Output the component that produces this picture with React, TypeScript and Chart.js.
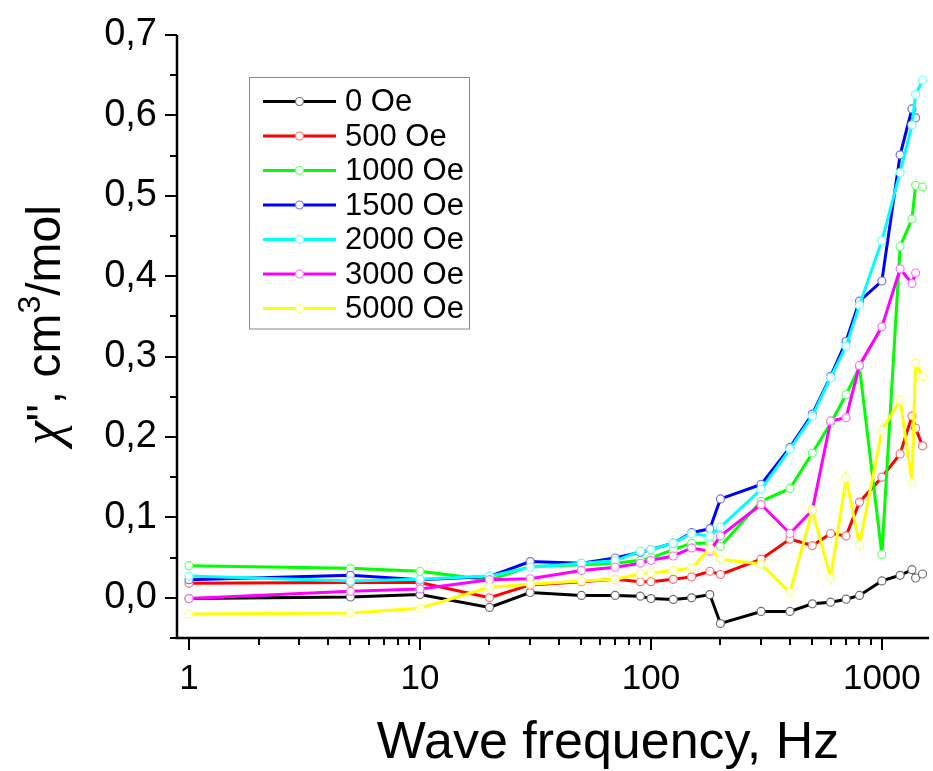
import React, { useEffect, useRef } from "react";
import { Chart, registerables } from "chart.js";

Chart.register(...registerables);

// Frequencies (Hz)
const FREQ = [1, 5, 10, 20, 30, 50, 70, 90, 100, 125, 150, 180, 200, 300, 400, 500, 600, 700, 800, 1000, 1200, 1350, 1400, 1500];

// chi'' values (cm3/mol) per applied field
const OE_0 = [-0.001, 0.001, 0.004, -0.012, 0.0066, 0.003, 0.003, 0.002, -0.001, -0.002, 0.0, 0.004, -0.032, -0.017, -0.017, -0.0075, -0.0054, -0.0017, 0.003, 0.021, 0.028, 0.035, 0.0246, 0.0296];
const OE_500 = [0.018, 0.019, 0.019, 0.0, 0.016, 0.02, 0.023, 0.02, 0.02, 0.023, 0.026, 0.033, 0.029, 0.048, 0.073, 0.065, 0.08, 0.077, 0.119, 0.15, 0.179, 0.226, 0.211, 0.189];
const OE_1000 = [0.04, 0.0366, 0.033, 0.022, 0.039, 0.041, 0.043, 0.0466, 0.0495, 0.06, 0.068, 0.068, 0.064, 0.12, 0.136, 0.18, 0.217, 0.2526, 0.287, 0.054, 0.437, 0.471, 0.513, 0.511];
const OE_1500 = [0.0225, 0.028, 0.0225, 0.0266, 0.045, 0.043, 0.0495, 0.0566, 0.06, 0.068, 0.081, 0.086, 0.123, 0.141, 0.187, 0.2285, 0.2755, 0.319, 0.369, 0.394, 0.551, 0.608, 0.597, null];
const OE_2000 = [0.027, 0.021, 0.023, 0.027, 0.038, 0.043, 0.046, 0.058, 0.06, 0.068, 0.08, 0.0766, 0.088, 0.135, 0.185, 0.226, 0.274, 0.313, 0.364, 0.444, 0.529, 0.588, 0.626, 0.644];
const OE_3000 = [-0.001, 0.008, 0.011, 0.0225, 0.0237, 0.034, 0.038, 0.043, 0.0466, 0.052, 0.062, 0.058, 0.077, 0.116, 0.08, 0.109, 0.22, 0.224, 0.289, 0.337, 0.409, 0.391, 0.404, null];
const OE_5000 = [-0.02, -0.019, -0.013, 0.013, 0.017, 0.021, 0.023, 0.03, 0.031, 0.034, 0.037, 0.061, 0.048, 0.042, 0.0066, 0.109, 0.0246, 0.149, 0.066, 0.208, 0.246, 0.144, 0.292, 0.275];

const SERIES = [OE_0, OE_500, OE_1000, OE_1500, OE_2000, OE_3000, OE_5000];
const NAMES = ["0 Oe", "500 Oe", "1000 Oe", "1500 Oe", "2000 Oe", "3000 Oe", "5000 Oe"];
const COLORS = ["#000000", "#ff0000", "#00ff00", "#0000ff", "#00ffff", "#ff00ff", "#ffff00"];
const MARKER_COLORS = ["#707070", "#ff7070", "#70ff70", "#7070ff", "#70ffff", "#ff70ff", "#ffff70"];

const X_TICKS = [1, 10, 100, 1000];
const X_MINOR = [2, 3, 4, 5, 6, 7, 8, 9, 20, 30, 40, 50, 60, 70, 80, 90, 200, 300, 400, 500, 600, 700, 800, 900];
const Y_TICKS = [0, 0.1, 0.2, 0.3, 0.4, 0.5, 0.6, 0.7];
const Y_MINOR = [-0.05, 0.05, 0.15, 0.25, 0.35, 0.45, 0.55, 0.65];

const SANS = "'Liberation Sans', Arial, sans-serif";

const decor = {
  id: "decor",
  beforeDatasetsDraw(chart: any) {
    const ctx = chart.ctx;
    const xs = chart.scales.x;
    const ys = chart.scales.y;
    const { left, right, top, bottom } = chart.chartArea;
    ctx.save();
    ctx.strokeStyle = "#000";
    ctx.lineWidth = 2.5;
    ctx.beginPath();
    ctx.moveTo(left, top);
    ctx.lineTo(left, bottom + 1.25);
    ctx.moveTo(left - 1.25, bottom);
    ctx.lineTo(right, bottom);
    ctx.stroke();
    ctx.lineWidth = 2;
    ctx.beginPath();
    X_TICKS.forEach((v) => {
      const p = Math.round(xs.getPixelForValue(v));
      ctx.moveTo(p, bottom);
      ctx.lineTo(p, bottom + 12);
    });
    X_MINOR.forEach((v) => {
      const p = Math.round(xs.getPixelForValue(v));
      ctx.moveTo(p, bottom);
      ctx.lineTo(p, bottom + 7);
    });
    Y_TICKS.forEach((v) => {
      const p = Math.round(ys.getPixelForValue(v));
      ctx.moveTo(left, p);
      ctx.lineTo(left - 12, p);
    });
    Y_MINOR.forEach((v) => {
      const p = Math.round(ys.getPixelForValue(v));
      ctx.moveTo(left, p);
      ctx.lineTo(left - 7, p);
    });
    ctx.stroke();
    ctx.restore();
  },
  afterDraw(chart: any) {
    const ctx = chart.ctx;
    ctx.save();
    ctx.fillStyle = "#000";
    // x title
    ctx.font = `52px ${SANS}`;
    ctx.textAlign = "center";
    ctx.textBaseline = "alphabetic";
    ctx.fillText("Wave frequency, Hz", 608, 758);

    // y title (rotated), with italic chi and superscript 3
    const parts = [
      { t: "\u03C7", f: `italic 54px 'Liberation Serif', serif`, dy: 0 },
      { t: "\", cm", f: `48px ${SANS}`, dy: 0 },
      { t: "3", f: `32px ${SANS}`, dy: -20 },
      { t: "/mol", f: `48px ${SANS}`, dy: 0 },
    ];
    let total = 0;
    parts.forEach((p) => {
      ctx.font = p.f;
      total += ctx.measureText(p.t).width;
    });
    ctx.translate(60, 325);
    ctx.rotate(-Math.PI / 2);
    ctx.textAlign = "left";
    let xpos = -total / 2;
    parts.forEach((p) => {
      ctx.font = p.f;
      ctx.fillText(p.t, xpos, p.dy);
      xpos += ctx.measureText(p.t).width;
    });
    ctx.restore();

    // legend
    ctx.save();
    const bx = 249, by = 77, bw = 220;
    const rowH = 34.5;
    const firstY = 101.5;
    const bh = firstY - by + rowH * (NAMES.length - 1) + 20;
    ctx.strokeStyle = "#8a8a8a";
    ctx.lineWidth = 1;
    ctx.strokeRect(bx + 0.5, by + 0.5, bw, bh);
    NAMES.forEach((name, i) => {
      const cy = firstY + i * rowH;
      ctx.strokeStyle = COLORS[i];
      ctx.lineWidth = 3;
      ctx.beginPath();
      ctx.moveTo(263, cy);
      ctx.lineTo(336, cy);
      ctx.stroke();
      ctx.beginPath();
      ctx.arc(299.5, cy, 4, 0, Math.PI * 2);
      ctx.fillStyle = "#fff";
      ctx.fill();
      ctx.strokeStyle = MARKER_COLORS[i];
      ctx.lineWidth = 1.2;
      ctx.stroke();
      ctx.fillStyle = "#000";
      ctx.font = `31px ${SANS}`;
      ctx.textAlign = "left";
      ctx.textBaseline = "middle";
      ctx.fillText(name, 345, cy + 1);
    });
    ctx.restore();
  },
};

export default function App() {
  const ref = useRef<HTMLCanvasElement>(null);
  useEffect(() => {
    const datasets = SERIES.map((vals, i) => ({
      label: NAMES[i],
      data: FREQ.map((f, j) => ({ x: f, y: vals[j] })).filter((p) => p.y !== null),
      borderColor: COLORS[i],
      backgroundColor: COLORS[i],
      borderWidth: 3,
      pointRadius: 4,
      pointBackgroundColor: "#ffffff",
      pointBorderColor: MARKER_COLORS[i],
      pointBorderWidth: 1.2,
      tension: 0,
      fill: false,
      order: SERIES.length - i,
    }));
    const chart = new Chart(ref.current as HTMLCanvasElement, {
      type: "line",
      data: { datasets } as any,
      options: {
        animation: false,
        responsive: false,
        maintainAspectRatio: false,
        layout: { autoPadding: false, padding: { top: 35, right: 4, left: 0, bottom: 0 } },
        plugins: {
          legend: { display: false },
          tooltip: { enabled: false },
          title: { display: false },
        },
        scales: {
          x: {
            type: "logarithmic",
            min: 0.887,
            max: 1600,
            grid: { display: false, drawTicks: false, tickLength: 0 },
            border: { display: false },
            afterBuildTicks: (s: any) => {
              s.ticks = X_TICKS.map((v) => ({ value: v }));
            },
            afterFit: (s: any) => {
              s.height = 133;
              s.paddingLeft = 0;
              s.paddingRight = 0;
              s.paddingTop = 0;
              s.paddingBottom = 0;
            },
            ticks: {
              autoSkip: false,
              maxRotation: 0,
              minRotation: 0,
              color: "#000",
              padding: 20,
              font: { family: SANS, size: 35 },
              callback: (v: any) => String(v),
            },
          },
          y: {
            type: "linear",
            min: -0.05,
            max: 0.7,
            grid: { display: false, drawTicks: false, tickLength: 0 },
            border: { display: false },
            afterBuildTicks: (s: any) => {
              s.ticks = Y_TICKS.map((v) => ({ value: v }));
            },
            afterFit: (s: any) => {
              s.width = 177;
              s.paddingLeft = 0;
              s.paddingRight = 0;
              s.paddingTop = 0;
              s.paddingBottom = 0;
            },
            ticks: {
              color: "#000",
              padding: 20,
              font: { family: SANS, size: 38 },
              callback: (v: any) => Number(v).toFixed(1).replace(".", ","),
            },
          },
        },
      } as any,
      plugins: [decor],
    });
    return () => chart.destroy();
  }, []);
  return (
    <div style={{ position: "absolute", left: 0, top: 0, width: 933, height: 771, background: "#fff" }}>
      <canvas ref={ref} width={933} height={771} style={{ width: 933, height: 771, display: "block" }} />
    </div>
  );
}
